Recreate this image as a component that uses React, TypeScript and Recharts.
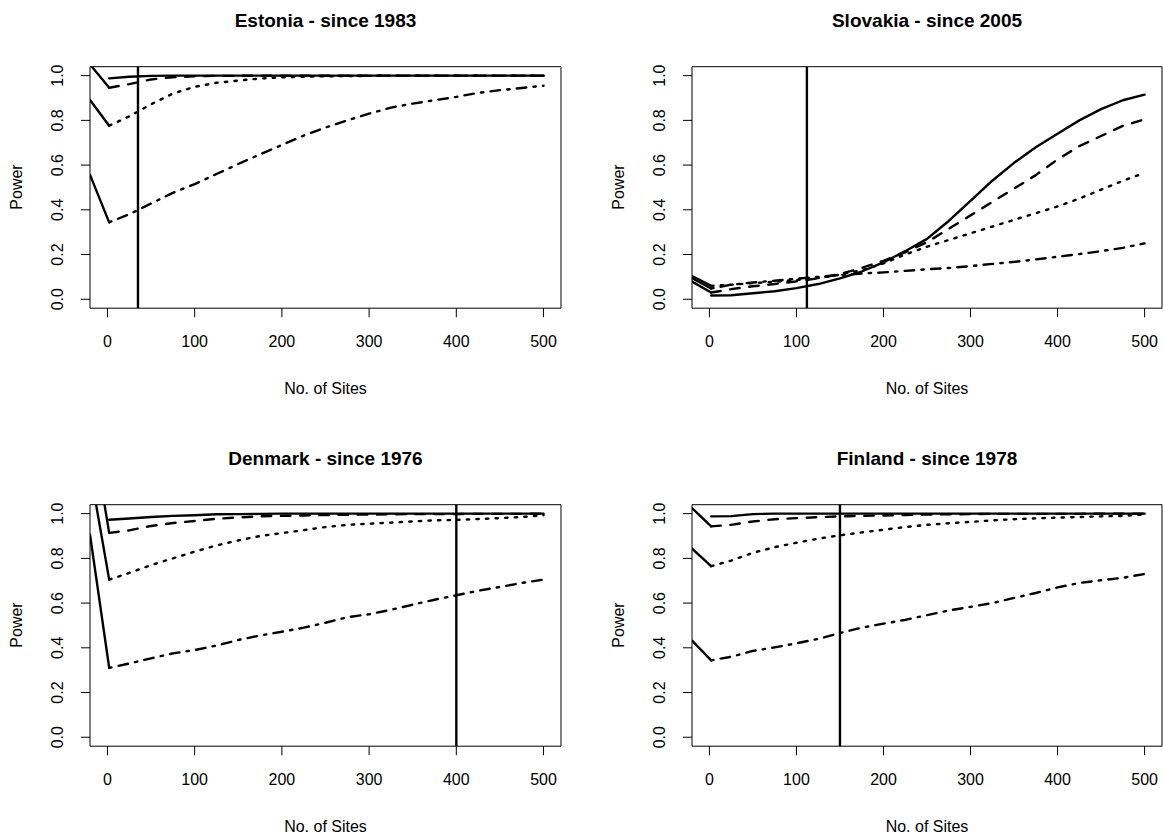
import { LineChart, Line, XAxis, YAxis, ReferenceArea, ReferenceLine } from "recharts";

const FONT = '"Liberation Sans", Arial, Helvetica, sans-serif';

// sample sizes (No. of Sites) where power was read
const SITES = [2, 25, 50, 75, 100, 125, 150, 175, 200, 225, 250, 275, 300, 325, 350, 375, 400, 425, 450, 475, 500];
const LEAD_X = -20;
const X_TICKS = [0, 100, 200, 300, 400, 500];
const Y_TICKS = [0, 0.2, 0.4, 0.6, 0.8, 1.0];

// Estonia
const estSolid = [0.988, 0.995, 0.999, 1, 1, 1, 1, 1, 1, 1, 1, 1, 1, 1, 1, 1, 1, 1, 1, 1, 1];
const estDashed = [0.946, 0.962, 0.983, 0.993, 0.997, 0.999, 0.999, 1, 1, 1, 1, 1, 1, 1, 1, 1, 1, 1, 1, 1, 1];
const estDotted = [0.776, 0.818, 0.872, 0.92, 0.95, 0.968, 0.978, 0.987, 0.992, 0.995, 0.997, 0.998, 0.999, 1, 1, 1, 1, 1, 1, 1, 1];
const estDashDot = [0.344, 0.38, 0.428, 0.476, 0.515, 0.56, 0.605, 0.648, 0.69, 0.732, 0.768, 0.8, 0.83, 0.857, 0.875, 0.89, 0.905, 0.923, 0.935, 0.945, 0.955];
const estLeads = [1.05, 0.891, 0.556];

// Slovakia
const slvSolid = [0.017, 0.018, 0.027, 0.036, 0.05, 0.068, 0.093, 0.124, 0.165, 0.215, 0.27, 0.35, 0.44, 0.53, 0.61, 0.68, 0.74, 0.8, 0.85, 0.89, 0.915];
const slvDashed = [0.03, 0.045, 0.058, 0.068, 0.08, 0.094, 0.113, 0.14, 0.172, 0.21, 0.255, 0.315, 0.375, 0.435, 0.495, 0.555, 0.625, 0.685, 0.73, 0.775, 0.805];
const slvDotted = [0.06, 0.065, 0.072, 0.078, 0.086, 0.095, 0.11, 0.13, 0.16, 0.2, 0.235, 0.265, 0.295, 0.325, 0.355, 0.385, 0.415, 0.45, 0.49, 0.53, 0.565];
const slvDashDot = [0.048, 0.065, 0.075, 0.083, 0.092, 0.1, 0.108, 0.115, 0.12, 0.127, 0.134, 0.14, 0.148, 0.158, 0.167, 0.178, 0.19, 0.202, 0.215, 0.23, 0.25];
const slvLeads = [0.079, 0.104, 0.094];

// Denmark
const denSolid = [0.973, 0.978, 0.985, 0.99, 0.993, 0.997, 0.998, 0.999, 1, 1, 1, 1, 1, 1, 1, 1, 1, 1, 1, 1, 1];
const denDashed = [0.914, 0.925, 0.945, 0.958, 0.967, 0.977, 0.983, 0.988, 0.99, 0.992, 0.994, 0.995, 0.996, 0.997, 0.998, 0.998, 0.998, 0.999, 0.999, 0.999, 1];
const denDotted = [0.705, 0.735, 0.77, 0.8, 0.83, 0.858, 0.88, 0.9, 0.913, 0.926, 0.94, 0.95, 0.955, 0.96, 0.965, 0.97, 0.972, 0.976, 0.98, 0.985, 0.993];
const denDashDot = [0.31, 0.33, 0.353, 0.375, 0.39, 0.41, 0.435, 0.455, 0.472, 0.49, 0.512, 0.537, 0.55, 0.57, 0.593, 0.615, 0.635, 0.655, 0.672, 0.69, 0.705];
const denLeads = [1.43, 1.196, 0.906];

// Finland
const finSolid = [0.988, 0.989, 0.998, 1, 1, 1, 1, 1, 1, 1, 1, 1, 1, 1, 1, 1, 1, 1, 1, 1, 1];
const finDashed = [0.943, 0.95, 0.965, 0.975, 0.98, 0.984, 0.988, 0.99, 0.992, 0.994, 0.996, 0.997, 0.998, 0.999, 0.999, 0.999, 0.999, 0.999, 1, 1, 1];
const finDotted = [0.765, 0.79, 0.825, 0.85, 0.87, 0.888, 0.903, 0.916, 0.928, 0.94, 0.95, 0.957, 0.963, 0.97, 0.975, 0.979, 0.982, 0.985, 0.988, 0.99, 0.996];
const finDashDot = [0.344, 0.36, 0.386, 0.402, 0.42, 0.44, 0.466, 0.49, 0.508, 0.525, 0.546, 0.567, 0.583, 0.6, 0.623, 0.645, 0.67, 0.69, 0.702, 0.713, 0.73];
const finLeads = [1.025, 0.844, 0.432];

const PANELS = [
  { title: "Estonia - since 1983", left: 0, top: 0, plotW: 471, vline: 35, series: [estSolid, estDashed, estDotted, estDashDot], leads: estLeads },
  { title: "Slovakia - since 2005", left: 602, top: 0, plotW: 470, vline: 112, series: [slvSolid, slvDashed, slvDotted, slvDashDot], leads: slvLeads },
  { title: "Denmark - since 1976", left: 0, top: 438, plotW: 471, vline: 400, series: [denSolid, denDashed, denDotted, denDashDot], leads: denLeads },
  { title: "Finland - since 1978", left: 602, top: 438, plotW: 470, vline: 150, series: [finSolid, finDashed, finDotted, finDashDot], leads: finLeads },
];

const Y_AXIS_W = 90;
const PLOT_TOP = 66.7;
const PLOT_H = 241.5;
const X_AXIS_H = 60;
const CHART_H = PLOT_TOP + PLOT_H + X_AXIS_H;
const LW = 2.4;

const DASHES = [undefined, "9.6 9.6", "2.4 7.2", "2.4 7.2 9.6 7.2"];

function buildRows(series: number[][], leads: number[]) {
  const rows: any[] = [{ x: LEAD_X, l2: leads[0], l3: leads[1], l4: leads[2] }];
  SITES.forEach((x, i) => {
    const row: any = { x, s1: series[0][i], s2: series[1][i], s3: series[2][i], s4: series[3][i] };
    if (i === 0) {
      row.l2 = series[1][0];
      row.l3 = series[2][0];
      row.l4 = series[3][0];
    }
    rows.push(row);
  });
  return rows;
}

const PowerTick = (props: any) => {
  const { x, y, payload } = props;
  return (
    <text
      x={x}
      y={y}
      transform={`rotate(-90, ${x}, ${y})`}
      textAnchor="middle"
      fontSize={16}
      fill="#000"
      fontFamily={FONT}
    >
      {Number(payload.value).toFixed(1)}
    </text>
  );
};

const Panel = ({ cfg }: { cfg: (typeof PANELS)[number] }) => {
  const rows = buildRows(cfg.series, cfg.leads);
  const chartW = Y_AXIS_W + cfg.plotW + 1;
  const centerX = Y_AXIS_W + cfg.plotW / 2;
  const label = { position: "absolute" as const, lineHeight: 1, whiteSpace: "nowrap" as const, fontFamily: FONT, color: "#000" };
  return (
    <div style={{ position: "absolute", left: cfg.left, top: cfg.top, width: chartW, height: CHART_H }}>
      <LineChart width={chartW} height={CHART_H} data={rows} margin={{ top: PLOT_TOP, right: 1, bottom: 0, left: 0 }}>
        <XAxis
          type="number"
          dataKey="x"
          domain={[-20, 520]}
          allowDataOverflow
          ticks={X_TICKS}
          interval={0}
          height={X_AXIS_H}
          axisLine={false}
          tickSize={9}
          tickMargin={18}
          tickLine={{ stroke: "#000", strokeWidth: 1 }}
          tick={{ fontSize: 16, fill: "#000", fontFamily: FONT }}
        />
        <YAxis
          type="number"
          domain={[-0.04, 1.04]}
          allowDataOverflow
          ticks={Y_TICKS}
          interval={0}
          width={Y_AXIS_W}
          axisLine={false}
          tickSize={9}
          tickMargin={18}
          tickLine={{ stroke: "#000", strokeWidth: 1 }}
          tick={<PowerTick />}
        />
        <ReferenceArea x1={-20} x2={520} y1={-0.04} y2={1.04} fill="none" fillOpacity={0} stroke="#000" strokeWidth={1} />
        <ReferenceLine x={cfg.vline} stroke="#000" strokeWidth={LW} />
        {["l2", "l3", "l4"].map((k) => (
          <Line key={k} type="linear" dataKey={k} stroke="#000" strokeWidth={LW} strokeLinecap="round" dot={false} activeDot={false} isAnimationActive={false} />
        ))}
        {["s1", "s2", "s3", "s4"].map((k, i) => (
          <Line
            key={k}
            type="linear"
            dataKey={k}
            stroke="#000"
            strokeWidth={LW}
            strokeDasharray={DASHES[i]}
            strokeLinecap="round"
            strokeLinejoin="round"
            dot={false}
            activeDot={false}
            isAnimationActive={false}
          />
        ))}
      </LineChart>
      <div style={{ ...label, left: centerX, top: 20, transform: "translate(-50%, -50%)", fontSize: 19, fontWeight: "bold" }}>
        {cfg.title}
      </div>
      <div style={{ ...label, left: 17, top: PLOT_TOP + PLOT_H / 2, transform: "translate(-50%, -50%) rotate(-90deg)", fontSize: 16 }}>
        Power
      </div>
      <div style={{ ...label, left: centerX, top: 389, transform: "translate(-50%, -50%)", fontSize: 16 }}>
        No. of Sites
      </div>
    </div>
  );
};

export default function App() {
  return (
    <div style={{ position: "absolute", left: 0, top: 0, width: 1163, height: 834, background: "#fff", overflow: "hidden" }}>
      {PANELS.map((p) => (
        <Panel key={p.title} cfg={p} />
      ))}
    </div>
  );
}
